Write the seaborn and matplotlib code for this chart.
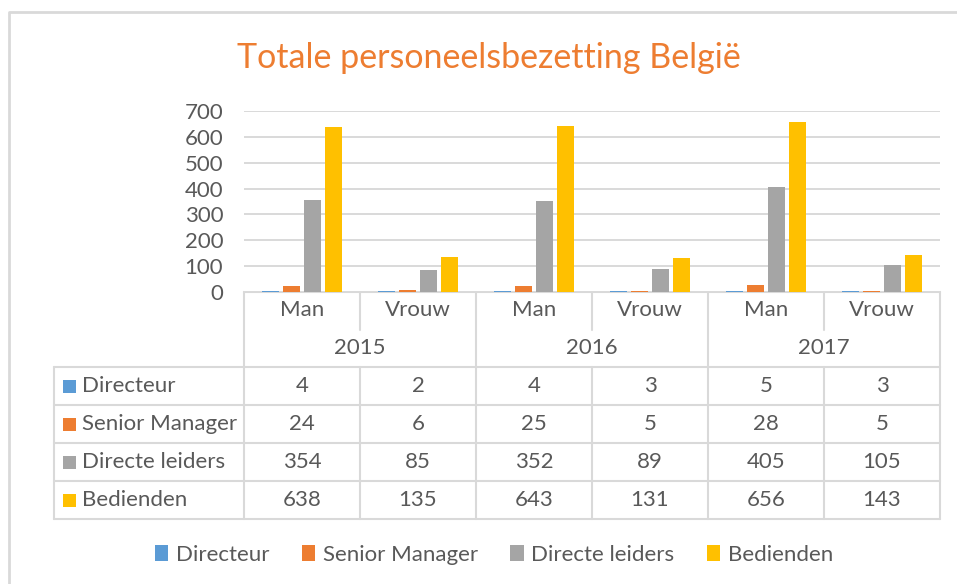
import matplotlib
matplotlib.use("Agg")
import matplotlib.pyplot as plt
from matplotlib.lines import Line2D
from matplotlib.patches import Rectangle
import pandas as pd
import seaborn as sns

# ---- data -------------------------------------------------------------
years = ["2015", "2016", "2017"]
genders = ["Man", "Vrouw"]
series = ["Directeur", "Senior Manager", "Directe leiders", "Bedienden"]
directeur = [4, 2, 4, 3, 5, 3]
senior_manager = [24, 6, 25, 5, 28, 5]
directe_leiders = [354, 85, 352, 89, 405, 105]
bedienden = [638, 135, 643, 131, 656, 143]
y_ticks = [0, 100, 200, 300, 400, 500, 600, 700]
title = "Totale personeelsbezetting België"

colors = ["#5B9BD5", "#ED7D31", "#A5A5A5", "#FFC000"]
text_color = "#595959"
line_color = "#D9D9D9"

values = [directeur, senior_manager, directe_leiders, bedienden]
cats = [f"{y} {g}" for y in years for g in genders]
rows = []
for s, vals in zip(series, values):
    for c, v in zip(cats, vals):
        rows.append({"cat": c, "series": s, "value": v})
df = pd.DataFrame(rows)

# ---- figure -----------------------------------------------------------
W, H = 957, 584
sns.set_theme(style="white")
plt.rcParams["font.family"] = ["Lato", "DejaVu Sans"]

fig = plt.figure(figsize=(W / 100, H / 100), dpi=100)


def fx(px):
    return px / W


def fy(py):
    return 1 - py / H


plot_l, plot_r, plot_t, plot_b = 244, 940, 111, 292
ax = fig.add_axes([fx(plot_l), fy(plot_b), fx(plot_r - plot_l), (plot_b - plot_t) / H])

sns.barplot(data=df, x="cat", y="value", hue="series", order=cats,
            hue_order=series, palette=colors, saturation=1, width=0.724,
            gap=0.19, errorbar=None, linewidth=0, legend=False, ax=ax)

fs = 16
ax.set_xlim(-0.5, len(cats) - 0.5)
ax.set_ylim(0, 700)
ax.set_yticks(y_ticks)
ax.set_xticks([])
ax.set_xlabel("")
ax.set_ylabel("")
ax.tick_params(axis="y", length=0, pad=15, labelsize=fs, labelcolor=text_color)
for sp in ax.spines.values():
    sp.set_visible(False)
ax.yaxis.grid(True, color=line_color, linewidth=1.4)
ax.set_axisbelow(True)

# overlay in pixel coordinates for the data table and frame
ov = fig.add_axes([0, 0, 1, 1], zorder=-1)
ov.set_xlim(0, W)
ov.set_ylim(H, 0)
ov.axis("off")
ov.patch.set_alpha(0)


def hline(y, x0, x1):
    ov.add_line(Line2D([x0, x1], [y, y], color=line_color, lw=1.5))


def vline(x, y0, y1):
    ov.add_line(Line2D([x, x], [y0, y1], color=line_color, lw=1.5))


# chart frame
ov.add_line(Line2D([9, 9, W + 5], [H + 5, 12, 12], color=line_color, lw=2))

col_w = (plot_r - plot_l) / len(cats)
tab_l = 54
row_tops = [367, 405, 443, 481, 519]
hdr_split = 330

# table grid
hline(plot_b, plot_l, plot_r)
for y in row_tops:
    hline(y, tab_l, plot_r)
vline(tab_l, row_tops[0], row_tops[-1])
for i in range(len(cats) + 1):
    x = plot_l + i * col_w
    if i % 2 == 0:
        vline(x, plot_b, row_tops[-1])
    else:
        vline(x, plot_b, hdr_split)
        vline(x, row_tops[0], row_tops[-1])

# header labels
for i, c in enumerate(cats):
    xc = plot_l + (i + 0.5) * col_w
    ov.text(xc, 310, genders[i % 2], ha="center", va="center",
            fontsize=fs, color=text_color)
for j, yr in enumerate(years):
    xc = plot_l + (2 * j + 1) * col_w
    ov.text(xc, 348, yr, ha="center", va="center", fontsize=fs, color=text_color)

# data rows
for r, (s, vals) in enumerate(zip(series, values)):
    yc = (row_tops[r] + row_tops[r + 1]) / 2
    ov.add_patch(Rectangle((63, yc - 6.5), 13, 13, color=colors[r], lw=0))
    ov.text(82, yc, s, ha="left", va="center", fontsize=fs, color=text_color)
    for i, v in enumerate(vals):
        xc = plot_l + (i + 0.5) * col_w
        ov.text(xc, yc, str(v), ha="center", va="center", fontsize=fs,
                color=text_color)

# title
fig.text(fx(489), fy(58), title, ha="center", va="center", fontsize=24.5,
         color="#ED7D31")

# legend
fig.legend(ax.containers, series, loc="center", bbox_to_anchor=(fx(494), fy(555)),
           ncol=4, frameon=False, fontsize=fs, handlelength=0.6,
           handleheight=0.75, handletextpad=0.35, columnspacing=1.45,
           labelcolor=text_color)

fig.savefig("out.png", dpi=100)
